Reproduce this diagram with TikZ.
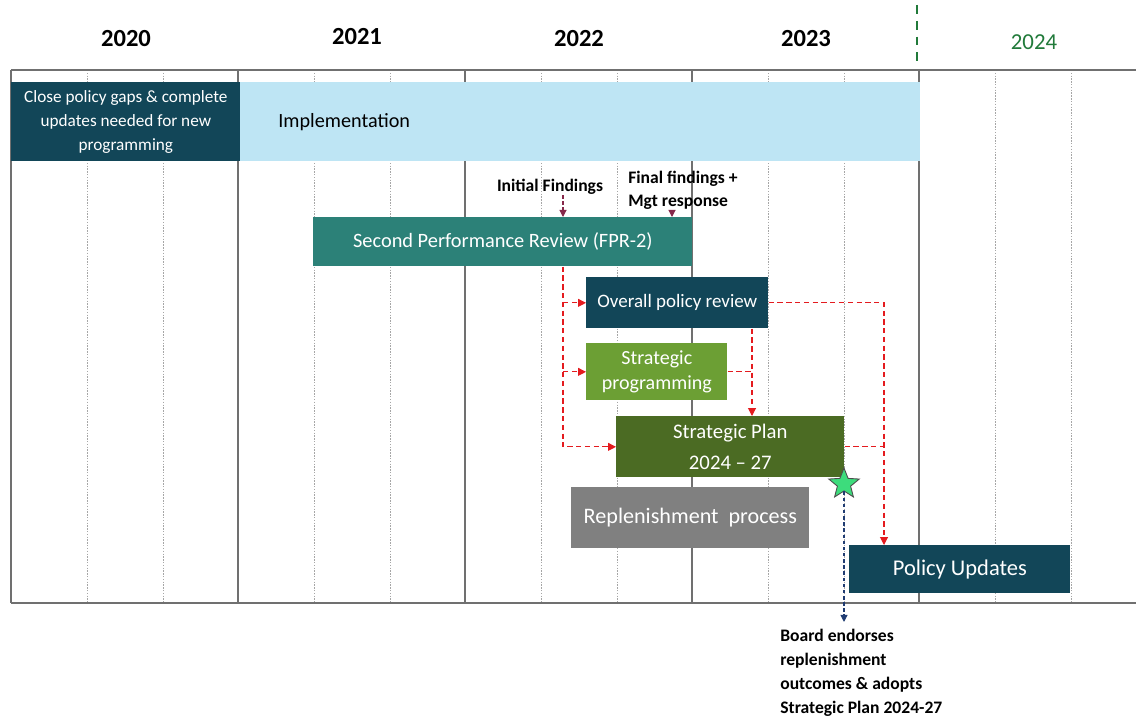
\documentclass[tikz,border=0pt]{standalone}
\usepackage{fontspec}
\setmainfont{Carlito}
\usetikzlibrary{shapes.geometric,arrows.meta}
\definecolor{dteal}{HTML}{124658}
\definecolor{lblue}{HTML}{BEE5F4}
\definecolor{fprc}{HTML}{2C8178}
\definecolor{spgc}{HTML}{6C9F34}
\definecolor{spc}{HTML}{4B6B23}
\definecolor{grayc}{HTML}{808080}
\definecolor{redc}{HTML}{E41B1F}
\definecolor{dredc}{HTML}{86284A}
\definecolor{navyc}{HTML}{203C72}
\definecolor{greenc}{HTML}{217A3A}
\definecolor{starc}{HTML}{3DDC7C}
\definecolor{gridc}{HTML}{707070}
\def\u{0.02cm}
\tikzset{
  bar/.style={draw=none, inner sep=0, anchor=north west, text=white, align=center},
  year/.style={font=\fontsize{14}{16}\selectfont\bfseries},
  solidgrid/.style={draw=gridc, line width=0.9pt},
  dotgrid/.style={draw=gray!70, line width=0.5pt, dash pattern=on 0.8pt off 0.8pt},
  rd/.style={draw=redc, line width=0.6pt, dash pattern=on 3pt off 2pt},
  rdarrow/.style={rd, -{Triangle[length=4.5pt,width=4.5pt]}, color=redc},
  note/.style={font=\fontsize{10}{13}\selectfont\bfseries, inner sep=0},
}
\begin{document}
\begin{tikzpicture}[x=0.02cm, y=-0.02cm]
\useasboundingbox (0,0) rectangle (1136,719);
% grid
\foreach \xx in {87,163,314,390,541,617,768,844,995,1071}
  \draw[dotgrid] (\xx,70) -- (\xx,603);
\foreach \xx in {11,238,465,692,919}
  \draw[solidgrid] (\xx,70) -- (\xx,603);
\draw[solidgrid] (11,70) -- (1136,70);
\draw[solidgrid] (11,603) -- (1136,603);
\draw[greenc, line width=1pt, dash pattern=on 5pt off 4pt] (917,5) -- (917,62);
% years
\node[year] (y20) at (126,39) {2020};
\node[year] (y21) at (357,37) {2021};
\node[year] (y22) at (579,39) {2022};
\node[year] (y23) at (806,39) {2023};
\node[font=\fontsize{13}{15}\selectfont, text=greenc] (y24) at (1034,42) {2024};
% bars
\node[bar, fill=lblue, text=black, minimum width=680*\u, minimum height=79*\u,
  inner xsep=38*\u, text width=604*\u, align=left, font=\fontsize{11.5}{14}\selectfont] (impl) at (240,82) {\raisebox{-2pt}{Implementation}};
\node[bar, fill=dteal, minimum width=229*\u, minimum height=79*\u,
  font=\fontsize{9.8}{13.6}\selectfont] (close) at (11,82) {Close policy gaps \& complete\\updates needed for new\\programming};
\node[bar, fill=fprc, minimum width=379*\u, minimum height=49*\u,
  font=\fontsize{11.6}{14}\selectfont] (fpr) at (313,217) {Second Performance Review (FPR-2)};
\node[bar, fill=dteal, minimum width=182*\u, minimum height=51*\u,
  font=\fontsize{10.8}{13}\selectfont] (opr) at (586,277) {Overall policy review};
\node[bar, fill=spgc, minimum width=141*\u, minimum height=57*\u,
  font=\fontsize{11.4}{14}\selectfont] (spg) at (586,343) {Strategic\\programming};
\node[bar, fill=spc, minimum width=228*\u, minimum height=61*\u,
  font=\fontsize{11.8}{17.5}\selectfont] (sp) at (616,416) {Strategic Plan\\2024 -- 27};
\node[bar, fill=grayc, minimum width=238*\u, minimum height=61*\u,
  font=\fontsize{12.6}{15}\selectfont] (rep) at (571,487) {\raisebox{-1pt}{Replenishment\ \ process}};
\node[bar, fill=dteal, minimum width=221*\u, minimum height=48*\u,
  font=\fontsize{12.8}{15}\selectfont] (pu) at (849,545) {\raisebox{-2pt}{Policy Updates}};
% star
\node[star, star points=5, star point ratio=2.3, fill=starc, draw=black!70, line width=0.5pt,
  minimum size=32*\u, inner sep=0] (star) at (844,484) {};
% labels
\node[note] (initf) at (550,187) {Initial Findings};
\node[note, anchor=north west, align=left] (finf) at (628,171) {Final findings +\\Mgt response};
\node[note, anchor=north west, align=left, font=\fontsize{10}{13.6}\selectfont\bfseries] (board) at (780,629) {Board endorses\\replenishment\\outcomes \& adopts\\Strategic Plan 2024-27};
% coordinates for connector columns
\coordinate (t) at (563,0);
\coordinate (w) at (672,0);
\coordinate (uu) at (752,0);
\coordinate (v) at (884,0);
% small findings arrows
\draw[draw=dredc, line width=0.6pt, dash pattern=on 2pt off 1.5pt, -{Triangle[length=4pt,width=4pt]}, color=dredc]
  (initf.south -| t) -- (fpr.north -| t);
\draw[draw=dredc, line width=0.6pt, -{Triangle[length=4pt,width=4pt]}, color=dredc]
  ([yshift=-1pt]finf.south -| w) -- (fpr.north -| w);
% red connectors
\draw[rdarrow] (fpr.south -| t) |- (sp.west);
\draw[rdarrow] (opr.west -| t) -- (opr.west);
\draw[rdarrow] (spg.west -| t) -- (spg.west);
\draw[rdarrow] (opr.south -| uu) -- (sp.north -| uu);
\draw[rd] (spg.east) -- (spg.east -| uu);
\draw[rdarrow] (opr.east) -| (pu.north -| v);
\draw[rd] (sp.east) -- (sp.east -| v);
% board arrow
\draw[draw=navyc, line width=0.6pt, dash pattern=on 2pt off 1.5pt, -{Triangle[length=4pt,width=4pt]}, color=navyc]
  (star.south) -- ([yshift=4pt]board.north -| star);
\end{tikzpicture}
\end{document}
